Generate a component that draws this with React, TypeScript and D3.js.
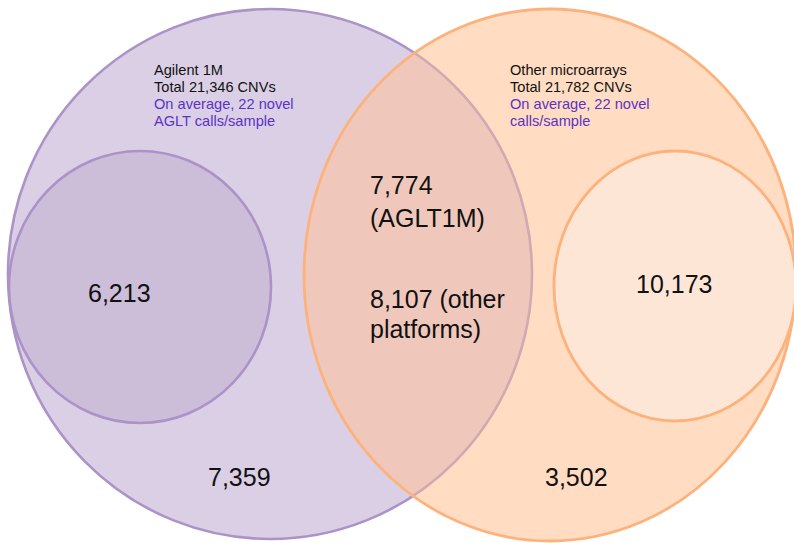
import React from "react";
import * as d3 from "d3";

// ---- data ----
const platforms = ["Agilent 1M", "Other microarrays"];
const totalCNVs = [21346, 21782];
const novelPerSample = [22, 22];
const novelSuffix = ["AGLT calls/sample", "calls/sample"];
const exclusiveCounts = [7359, 3502];
const subsetCounts = [6213, 10173];
const overlapCounts = [7774, 8107];
const overlapNotes = ["(AGLT1M)", "(other platforms)"];

// ---- layout ----
const W = 794;
const H = 543;
const big = [
  { cx: 270, cy: 274, rx: 262, ry: 265 },
  { cx: 550, cy: 275, rx: 246, ry: 266 },
];
const small = [
  { cx: 140, cy: 287, rx: 131, ry: 136 },
  { cx: 675, cy: 286, rx: 121, ry: 135 },
];
const colors = {
  purpleFill: "#dbcfe5",
  purpleSmall: "#ccbdd9",
  purpleStroke: "#ab93c8",
  purpleStrokeMuted: "#d2a8b1",
  orangeFill: "#ffdcc2",
  orangeSmall: "#fee6d7",
  orangeStroke: "#fdb27c",
  overlap: "#efc8bb",
  violet: "#5a33c6",
  text: "#111111",
};

const fmt = d3.format(",");
const font = "'Liberation Sans', Arial, Helvetica, sans-serif";

export default function App() {
  const headerX = [154, 510];
  const headerY0 = 75;
  const lh = 17;
  return (
    <svg
      width={W}
      height={H}
      viewBox={`0 0 ${W} ${H}`}
      style={{ position: "absolute", left: 0, top: 0, background: "#fff" }}
      fontFamily={font}
    >
      <defs>
        <clipPath id="clipOrange">
          <ellipse {...big[1]} />
        </clipPath>
      </defs>
      {/* Agilent set */}
      <ellipse {...big[0]} fill={colors.purpleFill} stroke={colors.purpleStroke} strokeWidth={2.6} />
      <ellipse {...small[0]} fill={colors.purpleSmall} stroke={colors.purpleStroke} strokeWidth={2.6} />
      {/* Other set */}
      <ellipse {...big[1]} fill={colors.orangeFill} />
      <g clipPath="url(#clipOrange)">
        <ellipse {...big[0]} fill={colors.overlap} stroke={colors.purpleStrokeMuted} strokeWidth={2.6} />
      </g>
      <ellipse {...big[1]} fill="none" stroke={colors.orangeStroke} strokeWidth={2.8} />
      <ellipse {...small[1]} fill={colors.orangeSmall} stroke={colors.orangeStroke} strokeWidth={2.8} />

      {/* headers */}
      {platforms.map((p, i) => (
        <g key={p} fontSize={14.6}>
          <text x={headerX[i]} y={headerY0} fill={colors.text}>{p}</text>
          <text x={headerX[i]} y={headerY0 + lh} fill={colors.text}>
            {`Total ${fmt(totalCNVs[i])} CNVs`}
          </text>
          <text x={headerX[i]} y={headerY0 + 2 * lh} fill={colors.violet}>
            {`On average, ${novelPerSample[i]} novel`}
          </text>
          <text x={headerX[i]} y={headerY0 + 3 * lh} fill={colors.violet}>
            {novelSuffix[i]}
          </text>
        </g>
      ))}

      {/* counts */}
      <g fontSize={25} fill={colors.text}>
        <text x={88} y={302}>{fmt(subsetCounts[0])}</text>
        <text x={636} y={293}>{fmt(subsetCounts[1])}</text>
        <text x={208} y={486}>{fmt(exclusiveCounts[0])}</text>
        <text x={545} y={486}>{fmt(exclusiveCounts[1])}</text>
        <text x={370} y={194}>{fmt(overlapCounts[0])}</text>
        <text x={370} y={227}>{overlapNotes[0]}</text>
        <text x={370} y={308}>{`${fmt(overlapCounts[1])} ${overlapNotes[1].split(" ")[0]}`}</text>
        <text x={370} y={338}>{overlapNotes[1].split(" ").slice(1).join(" ")}</text>
      </g>
    </svg>
  );
}
